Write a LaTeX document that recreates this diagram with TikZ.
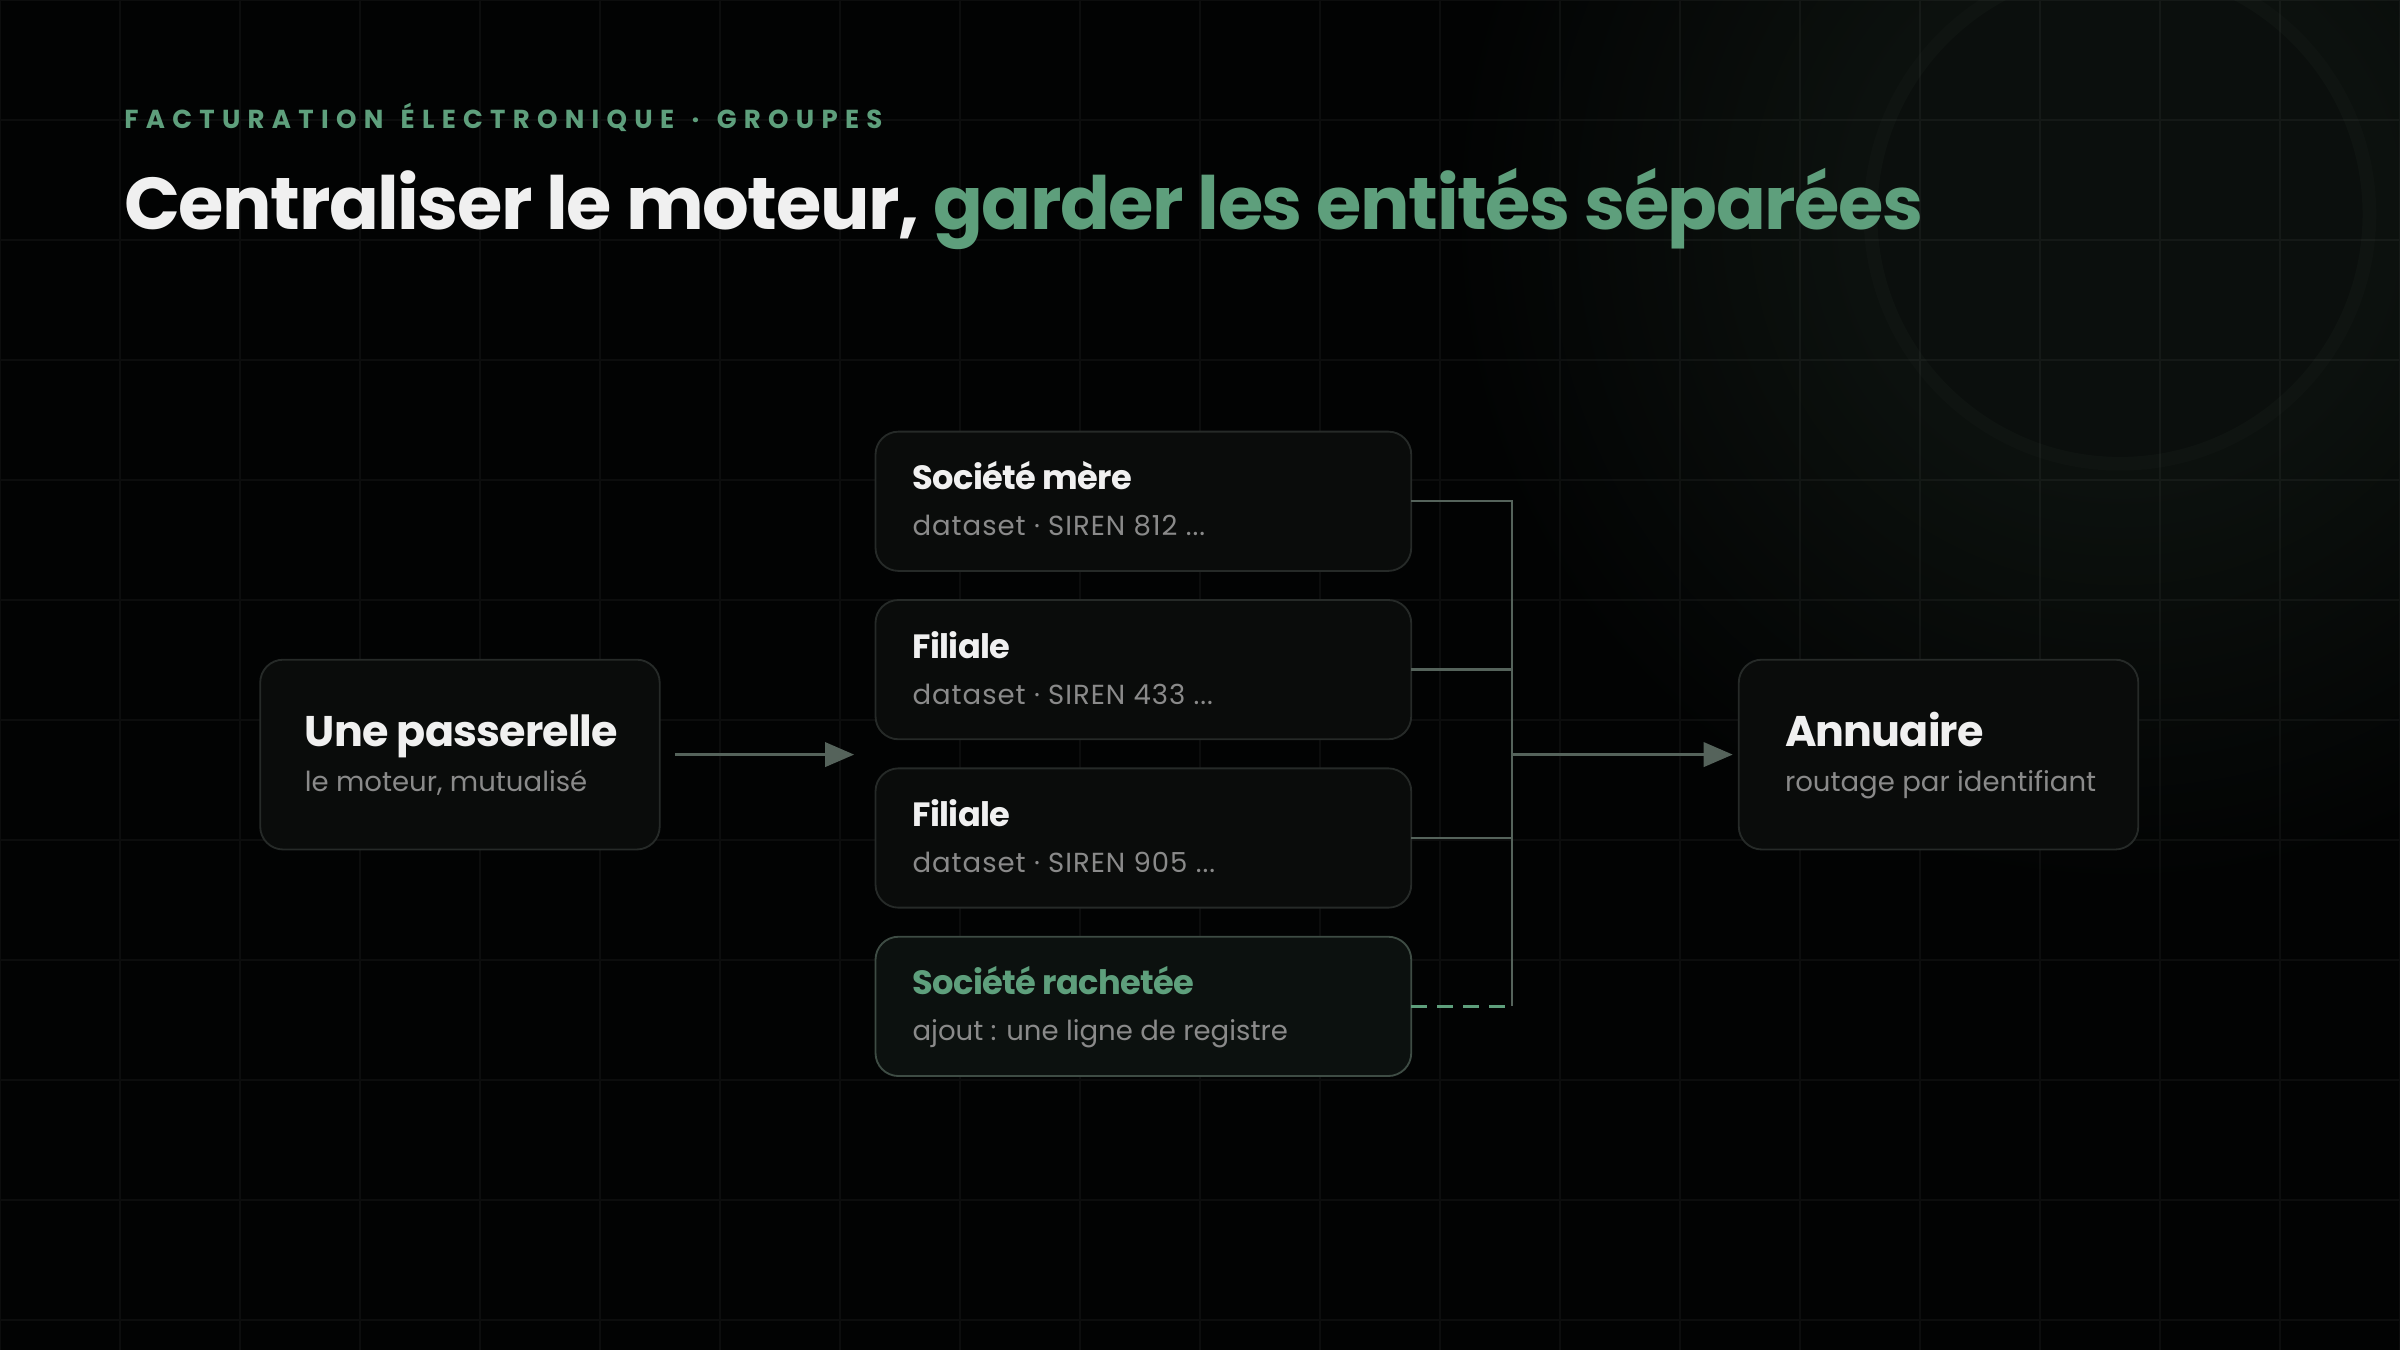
\documentclass[tikz,border=0pt]{standalone}
\usepackage{fontspec}
\setmainfont{Poppins}
\newfontfamily\capsfont{Poppins}[LetterSpace=28]
\newfontfamily\headfont{Poppins}[LetterSpace=-2]
\newfontfamily\codefont{Poppins}[LetterSpace=3.5]
\usetikzlibrary{positioning,arrows.meta}
\definecolor{bg}{HTML}{020303}
\definecolor{glow}{HTML}{0C110E}
\definecolor{ringfill}{HTML}{0B0F0D}
\definecolor{ringline}{HTML}{0F1411}
\definecolor{boxfill}{HTML}{0A0C0B}
\definecolor{boxline}{HTML}{262A28}
\definecolor{newfill}{HTML}{0C110F}
\definecolor{newline}{HTML}{3E4C44}
\definecolor{wire}{HTML}{55635B}
\definecolor{accent}{HTML}{5E9F7C}
\definecolor{ink}{HTML}{F0F0F0}
\definecolor{mute}{HTML}{8A8A8A}
\pgfdeclareradialshading{halo}{\pgfpointorigin}{color(0bp)=(glow); color(10bp)=(glow); color(25bp)=(bg); color(50bp)=(bg)}

\begin{document}
\begin{tikzpicture}[x=1pt,y=-1pt,
    box/.style={draw=boxline,fill=boxfill,line width=1.2pt,rounded corners=15pt,
        inner sep=0pt,outer sep=0pt,minimum width=350pt,minimum height=91pt},
    bigbox/.style={box,minimum width=261pt,minimum height=124pt},
    newbox/.style={box,draw=newline,fill=newfill},
    ttl/.style={anchor=base west,inner sep=0pt,text=ink,
        font=\headfont\fontsize{22}{22}\selectfont\bfseries},
    bigttl/.style={ttl,font=\headfont\fontsize{28}{28}\selectfont\bfseries},
    sub/.style={anchor=base west,inner sep=0pt,text=mute,
        font=\fontsize{18}{18}\selectfont},
    code/.style={sub,font=\codefont\fontsize{18}{18}\selectfont},
    link/.style={draw=wire,line width=1.6pt},
    flow/.style={link,-{Triangle[length=19pt,width=16pt]}},
    newlink/.style={draw=accent,line width=1.6pt,dash pattern=on 10pt off 7pt}]

    \useasboundingbox (0,0) rectangle (1568,882);
    \clip (0,0) rectangle (1568,882);
    \fill[bg] (0,0) rectangle (1568,882);
    % glow top right
    \shade[shading=halo] (1385,140) circle (440);
    \draw[ringline,line width=9pt,fill=ringfill] (1385,140) circle (163);
    \draw[white,opacity=0.045,line width=1pt,step=78.4pt] (0,882) grid (1568,0);

    % heading
    \node[anchor=base west,inner sep=0pt,text=accent,
        font=\capsfont\fontsize{17}{17}\selectfont\bfseries] (kicker) at (81,84)
        {FACTURATION\hspace{3pt} ÉLECTRONIQUE\hspace{3pt} ·\hspace{3pt} GROUPES};
    \node[anchor=base west,inner sep=0pt,text=ink,
        font=\headfont\fontsize{48}{48}\selectfont\bfseries] (title) at (81,150)
        {Centraliser le moteur, \textcolor{accent}{garder les entités séparées}};

    % gateway
    \node[bigbox] (gw) at (300.5,493) {};
    \node[bigttl] (gw-t) at ([shift={(29,-5)}]gw.west) {Une passerelle};
    \node[sub] (gw-s) at ([shift={(29,24)}]gw.west) {le moteur, mutualisé};

    % entities
    \node[box] (e1) at (747,327.5) {};
    \node[box,below=19pt of e1] (e2) {};
    \node[box,below=19pt of e2] (e3) {};
    \node[newbox,below=19pt of e3] (e4) {};
    \node[ttl] (e1-t) at ([shift={(24,-7.5)}]e1.west) {Société mère};
    \node[code] (e1-s) at ([shift={(24,22.5)}]e1.west) {dataset · SIREN 812 ...};
    \node[ttl] (e2-t) at ([shift={(24,-7.5)}]e2.west) {Filiale};
    \node[code] (e2-s) at ([shift={(24,22.5)}]e2.west) {dataset · SIREN 433 ...};
    \node[ttl] (e3-t) at ([shift={(24,-7.5)}]e3.west) {Filiale};
    \node[code] (e3-s) at ([shift={(24,22.5)}]e3.west) {dataset · SIREN 905 ...};
    \node[ttl,text=accent] (e4-t) at ([shift={(24,-7.5)}]e4.west) {Société rachetée};
    \node[sub] (e4-s) at ([shift={(24,22.5)}]e4.west) {ajout : une ligne de registre};

    % directory
    \node[bigbox] (dir) at (1266.5,493) {};
    \node[bigttl] (dir-t) at ([shift={(30,-5)}]dir.west) {Annuaire};
    \node[sub] (dir-s) at ([shift={(30,24)}]dir.west) {routage par identifiant};

    % connectors
    \coordinate (fan) at (e1.west |- gw.east);
    \coordinate (bus) at (988,493);
    \coordinate (bus-4) at (bus |- e4.east);
    \draw[flow,shorten <=10pt,shorten >=14pt] (gw.east) -- (fan);
    \draw[link] (e1.east) -| (bus);
    \draw[link] (e2.east) -| (bus);
    \draw[link] (e3.east) -| (bus);
    \draw[link] (bus) -- (bus-4);
    \draw[newlink] (e4.east) -- (bus-4);
    \draw[flow,shorten >=4pt] (bus) -- (dir.west);
\end{tikzpicture}
\end{document}
